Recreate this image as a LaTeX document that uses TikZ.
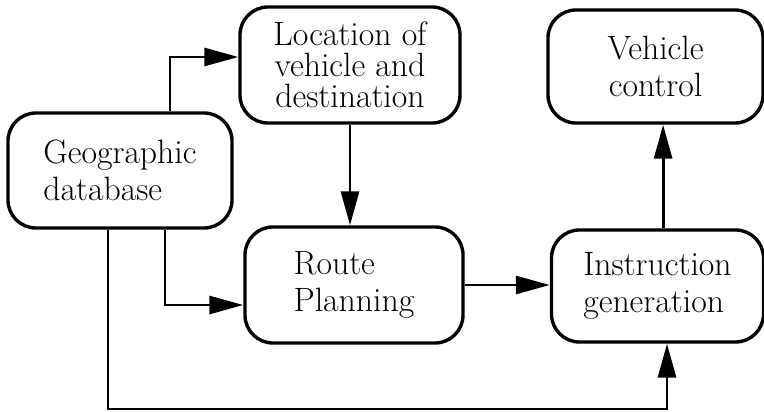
\documentclass[tikz,border=0pt]{standalone}
\usepackage{tikz}
\usetikzlibrary{arrows.meta, positioning}

\begin{document}
\begin{tikzpicture}[
    x=0.025cm, y=-0.025cm,
    block/.style={draw, line width=2.4pt, rounded corners=0.7cm, inner sep=2pt, font=\fontsize{24}{26}\selectfont},
    arrow/.style={-{Triangle[length=0.85cm, width=0.45cm]}, line width=2.1pt}
]
    \useasboundingbox (0,0) rectangle (764,412);
    \node[block, minimum width=5.6cm, minimum height=2.875cm, align=left] (geo) at (120,170.5) {Geographic\\database};
    \node[block, minimum width=5.5cm, minimum height=2.9cm, align=center, font=\fontsize{24}{22}\selectfont] (loc) at (350,65) {Location of\\vehicle and\\destination};
    \node[block, minimum width=5.45cm, minimum height=2.9cm, align=left] (route) at (354,285) {Route\\Planning};
    \node[block, minimum width=5.3cm, minimum height=2.8cm, align=left] (instr) at (657.5,286) {Instruction\\generation};
    \node[block, minimum width=5.375cm, minimum height=2.825cm, align=center] (veh) at (655.5,66.5) {Vehicle\\control};
    \coordinate (bottom) at (667,409);

    \draw[arrow] ([xshift=1.25cm]geo.north) |- ([yshift=0.2cm]loc.west);
    \draw[arrow] (loc.south) -- (loc.south |- route.north);
    \draw[arrow] ([xshift=1.125cm]geo.south) |- ([yshift=-0.5cm]route.west);
    \draw[arrow] ([xshift=-0.3cm]geo.south) |- (bottom) -- (bottom |- instr.south);
    \draw[arrow] (route.east) -- (route.east -| instr.west);
    \draw[arrow] ([xshift=0.14cm]instr.north) -- ([xshift=0.14cm]instr.north |- veh.south);
\end{tikzpicture}
\end{document}
